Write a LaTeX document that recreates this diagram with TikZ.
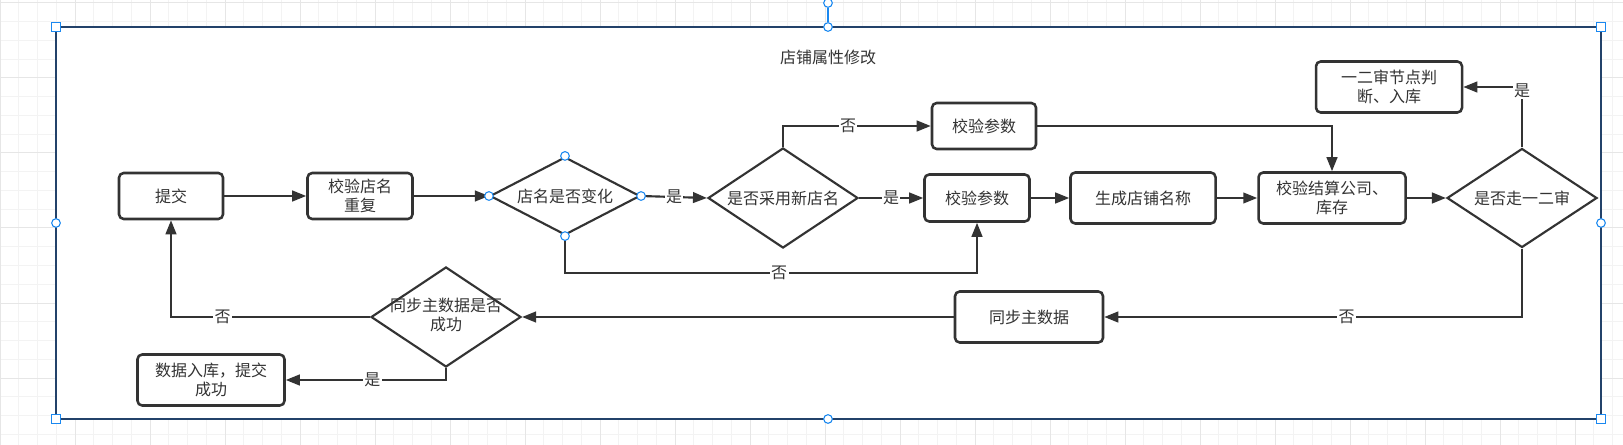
\documentclass[tikz,border=0pt]{standalone}
\usepackage{fontspec}
\setmainfont{Noto Sans CJK SC}
\usetikzlibrary{shapes.geometric, arrows.meta, positioning}
\definecolor{ink}{HTML}{333333}
\definecolor{frameblue}{HTML}{23426A}
\definecolor{handle}{HTML}{1A88F0}
\definecolor{gridminor}{HTML}{F3F3F3}
\definecolor{gridmajor}{HTML}{E6E6E6}
\tikzset{
  every node/.style={font=\fontsize{12pt}{14pt}\selectfont, text=ink},
  box/.style={draw=ink, line width=1.9pt, rounded corners=3.5pt, align=center, inner sep=0pt},
  decision/.style={draw=ink, line width=1.6pt, diamond, inner sep=0pt, align=center},
  flow/.style={draw=ink, line width=1.6pt, -{Triangle[length=10.5pt,width=8pt]}},
  lbl/.style={fill=white, inner sep=1pt},
  handlebox/.style={draw=handle, fill=white, line width=0.8pt, minimum size=6.5pt, inner sep=0pt},
  handledot/.style={handlebox, circle},
}
\newcommand{\zw}[1]{\makebox[0pt]{\begin{tabular}{@{}c@{}}#1\end{tabular}}}

\begin{document}
\begin{tikzpicture}[x=0.75pt,y=-0.75pt]
  \useasboundingbox (0,0) rectangle (1623,445);
  % background grid
  \foreach \i in {0,...,86} \draw[gridminor, line width=0.75pt] (\i*18.75,0) -- (\i*18.75,445);
  \foreach \j in {0,...,23} \draw[gridminor, line width=0.75pt] (0,3+\j*18.75) -- (1623,3+\j*18.75);
  \foreach \i in {0,...,21} \draw[gridmajor, line width=0.75pt] (\i*75,0) -- (\i*75,445);
  \foreach \j in {0,...,5} \draw[gridmajor, line width=0.75pt] (0,3+\j*75) -- (1623,3+\j*75);

  % frame
  \coordinate (ftl) at (56,27);
  \coordinate (fbr) at (1601,419);
  \fill[white] (ftl) rectangle (fbr);
  \draw[frameblue, line width=2pt] (ftl) rectangle (fbr);

  \node (title) at (828,57) {店铺属性修改};

  % steps
  \node[box, minimum width=78pt, minimum height=34.5pt] (submit) at (171,196) {提交};
  \node[box, minimum width=78.75pt, minimum height=34.5pt] (checkname) at (360,196) {校验店名\\重复};
  \node[decision, minimum width=112.5pt, minimum height=58.5pt, shape aspect=1.9] (changed) at (565,196) {店名是否变化};
  \node[decision, minimum width=112.5pt, minimum height=75pt, shape aspect=1.5] (usenew) at (783,198) {是否采用新店名};
  \node[box, minimum width=78pt, minimum height=34.5pt] (paramtop) at (984,126) {校验参数};
  \node[box, minimum width=78.75pt, minimum height=35.25pt] (parammid) at (977,198) {校验参数};
  \node[box, minimum width=108.75pt, minimum height=38.25pt] (genname) at (1143,198) {生成店铺名称};
  \node[box, minimum width=110.25pt, minimum height=38.25pt] (checkcomp) at (1332,198) {校验结算公司、\\库存};
  \node[decision, minimum width=112.5pt, minimum height=74.25pt, shape aspect=1.5] (review) at (1522,198) {是否走一二审};
  \node[box, minimum width=109.5pt, minimum height=38.25pt] (reviewnode) at (1389,87) {一二审节点判\\断、入库};
  \node[box, minimum width=111pt, minimum height=38.25pt] (syncmd) at (1029,317) {同步主数据};
  \node[decision, minimum width=112.5pt, minimum height=75pt, shape aspect=1.5] (syncok) at (446,317) {\zw{同步主数据是否\\成功}};
  \node[box, minimum width=110.25pt, minimum height=38.25pt] (storeok) at (211,380) {数据入库，提交\\成功};

  % connectors
  \draw[flow] (submit) -- (checkname);
  \draw[flow] (checkname) -- (changed);
  \draw[flow] (changed.east) -- node[lbl] {是} (usenew.west);
  \draw[flow] (usenew.north) |- node[lbl, pos=0.72] {否} (paramtop.west);
  \draw[flow] (usenew) -- node[lbl] {是} (parammid);
  \draw[flow] (changed.south) -- ++(0,37) -| node[lbl, pos=0.26] {否} (parammid.south);
  \draw[flow] (paramtop.east) -| (checkcomp.north);
  \draw[flow] (parammid) -- (genname);
  \draw[flow] (genname) -- (checkcomp);
  \draw[flow] (checkcomp) -- (review);
  \draw[flow] (review.north) |- node[lbl, pos=0.47] {是} (reviewnode.east);
  \draw[flow] (review.south) |- node[lbl, pos=0.71] {否} (syncmd.east);
  \draw[flow] (syncmd) -- (syncok);
  \draw[flow] (syncok.west) -| node[lbl, pos=0.37] {否} (submit.south);
  \draw[flow] (syncok.south) |- node[lbl, pos=0.73] {是} (storeok.east);

  % selection handles
  \foreach \a in {north,south,east,west} \node[handledot] (changed-h-\a) at (changed.\a) {};
  \node[handlebox] (h-tl) at (56,27) {};
  \node[handlebox] (h-tr) at (1601,27) {};
  \node[handlebox] (h-bl) at (56,419) {};
  \node[handlebox] (h-br) at (1601,419) {};
  \node[handledot] (h-t) at (828,27) {};
  \node[handledot] (h-b) at (828,419) {};
  \node[handledot] (h-l) at (56,223) {};
  \node[handledot] (h-r) at (1601,223) {};
  \node[handledot] (h-rot) at (828,3) {};
  \draw[handle, line width=0.8pt] (h-rot) -- (h-t);
\end{tikzpicture}
\end{document}
